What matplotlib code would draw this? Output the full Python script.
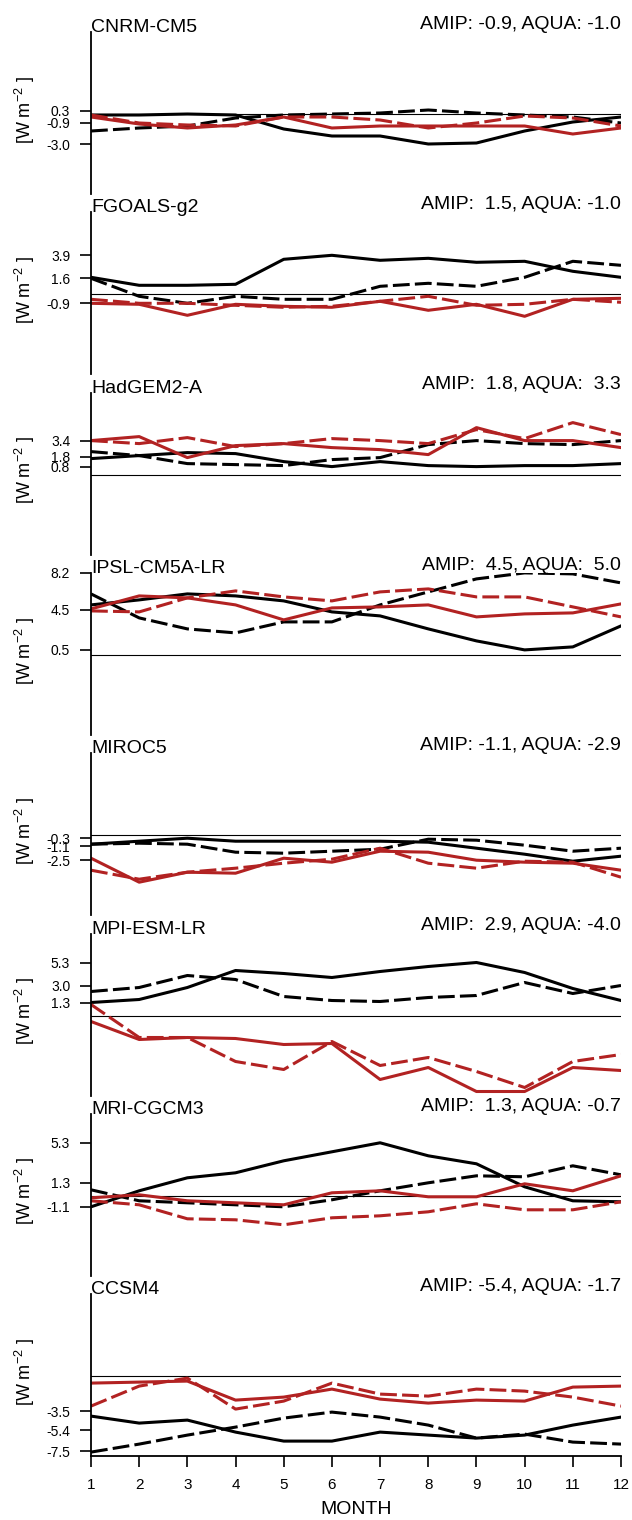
import matplotlib
matplotlib.use("Agg")
import matplotlib.pyplot as plt

plt.rcParams['font.family'] = ['Liberation Sans', 'DejaVu Sans']
plt.rcParams['mathtext.fontset'] = 'custom'
plt.rcParams['mathtext.rm'] = 'Liberation Sans'
plt.rcParams['mathtext.default'] = 'rm'

months = [1, 2, 3, 4, 5, 6, 7, 8, 9, 10, 11, 12]

models = ["CNRM-CM5", "FGOALS-g2", "HadGEM2-A", "IPSL-CM5A-LR",
          "MIROC5", "MPI-ESM-LR", "MRI-CGCM3", "CCSM4"]
amip_mean = [-0.9, 1.5, 1.8, 4.5, -1.1, 2.9, 1.3, -5.4]
aqua_mean = [-1.0, -1.0, 3.3, 5.0, -2.9, -4.0, -0.7, -1.7]

yticks = [[0.3, -0.9, -3.0],
          [3.9, 1.6, -0.9],
          [3.4, 1.8, 0.8],
          [8.2, 4.5, 0.5],
          [-0.3, -1.1, -2.5],
          [5.3, 3.0, 1.3],
          [5.3, 1.3, -1.1],
          [-3.5, -5.4, -7.5]]

# black solid / black dashed / red solid / red dashed per model
cnrm_bs = [-0.1, -0.1, 0.0, -0.1, -1.5, -2.2, -2.2, -3.0, -2.9, -1.7, -0.8, -0.3]
cnrm_bd = [-1.7, -1.4, -1.2, -0.4, -0.1, 0.0, 0.1, 0.4, 0.1, -0.1, -0.3, -0.9]
cnrm_rs = [-0.3, -1.0, -1.4, -1.1, -0.3, -1.4, -1.2, -1.2, -1.2, -1.2, -2.0, -1.4]
cnrm_rd = [-0.1, -0.9, -1.1, -1.2, -0.3, -0.3, -0.6, -1.4, -0.9, -0.2, -0.4, -1.2]

fgoals_bs = [1.7, 0.9, 0.9, 1.0, 3.5, 3.9, 3.4, 3.6, 3.2, 3.3, 2.3, 1.7]
fgoals_bd = [1.6, -0.2, -0.9, -0.2, -0.5, -0.5, 0.8, 1.1, 0.8, 1.7, 3.3, 2.9]
fgoals_rs = [-0.9, -1.0, -2.1, -1.0, -1.2, -1.3, -0.7, -1.6, -1.0, -2.2, -0.5, -0.4]
fgoals_rd = [-0.5, -0.9, -0.9, -1.1, -1.3, -1.2, -0.7, -0.2, -1.1, -1.0, -0.5, -0.8]

hadgem_bs = [1.6, 1.9, 2.2, 2.1, 1.3, 0.8, 1.3, 0.9, 0.8, 0.9, 0.9, 1.1]
hadgem_bd = [2.3, 1.9, 1.1, 1.0, 0.9, 1.5, 1.7, 3.0, 3.4, 3.1, 3.0, 3.4]
hadgem_rs = [3.4, 3.8, 1.7, 2.9, 3.1, 2.7, 2.5, 2.0, 4.7, 3.4, 3.4, 2.7]
hadgem_rd = [3.4, 3.1, 3.7, 2.8, 3.1, 3.6, 3.4, 3.1, 4.5, 3.6, 5.2, 4.0]

ipsl_bs = [5.0, 5.5, 6.1, 5.9, 5.4, 4.3, 3.9, 2.6, 1.4, 0.5, 0.8, 2.9]
ipsl_bd = [6.1, 3.7, 2.6, 2.2, 3.3, 3.3, 5.0, 6.3, 7.6, 8.2, 8.1, 7.2]
ipsl_rs = [4.6, 5.9, 5.7, 5.0, 3.5, 4.7, 4.8, 5.0, 3.8, 4.1, 4.2, 5.1]
ipsl_rd = [4.4, 4.3, 5.7, 6.4, 5.8, 5.4, 6.3, 6.6, 5.8, 5.8, 4.8, 3.8]

miroc_bs = [-0.9, -0.6, -0.3, -0.6, -0.6, -0.6, -0.6, -0.7, -1.3, -1.9, -2.6, -2.1]
miroc_bd = [-0.9, -0.8, -0.9, -1.7, -1.8, -1.6, -1.4, -0.4, -0.5, -1.0, -1.6, -1.3]
miroc_rs = [-2.3, -4.7, -3.7, -3.8, -2.3, -2.7, -1.6, -1.7, -2.5, -2.7, -2.8, -3.5]
miroc_rd = [-3.5, -4.4, -3.7, -3.3, -2.8, -2.4, -1.3, -2.8, -3.3, -2.6, -2.7, -4.2]

mpi_bs = [1.3, 1.6, 2.8, 4.5, 4.2, 3.8, 4.4, 4.9, 5.3, 4.3, 2.7, 1.5]
mpi_bd = [2.4, 2.8, 4.0, 3.6, 1.9, 1.5, 1.4, 1.8, 2.0, 3.3, 2.2, 3.0]
mpi_rs = [-0.6, -2.4, -2.2, -2.3, -2.9, -2.8, -6.4, -5.2, -7.6, -7.6, -5.2, -5.5]
mpi_rd = [1.1, -2.2, -2.2, -4.6, -5.4, -2.6, -5.0, -4.2, -5.6, -7.2, -4.6, -3.9]

mri_bs = [-1.1, 0.5, 1.8, 2.3, 3.5, 4.4, 5.3, 4.0, 3.2, 0.9, -0.5, -0.6]
mri_bd = [0.6, -0.5, -0.7, -0.9, -1.1, -0.4, 0.5, 1.3, 2.0, 1.9, 3.0, 2.1]
mri_rs = [-0.2, 0.1, -0.5, -0.7, -0.9, 0.3, 0.5, -0.1, -0.1, 1.2, 0.5, 2.0]
mri_rd = [-0.5, -0.9, -2.3, -2.4, -2.9, -2.2, -2.0, -1.6, -0.8, -1.4, -1.4, -0.6]

ccsm_bs = [-4.0, -4.7, -4.4, -5.6, -6.5, -6.5, -5.6, -5.9, -6.2, -5.9, -4.9, -4.1]
ccsm_bd = [-7.6, -6.8, -5.9, -5.1, -4.2, -3.6, -4.1, -4.9, -6.2, -5.8, -6.6, -6.8]
ccsm_rs = [-0.7, -0.6, -0.5, -2.4, -2.1, -1.3, -2.3, -2.7, -2.4, -2.5, -1.1, -1.0]
ccsm_rd = [-3.0, -1.0, -0.2, -3.3, -2.5, -0.7, -1.8, -2.0, -1.3, -1.5, -2.1, -3.0]

series = [(cnrm_bs, cnrm_bd, cnrm_rs, cnrm_rd),
          (fgoals_bs, fgoals_bd, fgoals_rs, fgoals_rd),
          (hadgem_bs, hadgem_bd, hadgem_rs, hadgem_rd),
          (ipsl_bs, ipsl_bd, ipsl_rs, ipsl_rd),
          (miroc_bs, miroc_bd, miroc_rs, miroc_rd),
          (mpi_bs, mpi_bd, mpi_rs, mpi_rd),
          (mri_bs, mri_bd, mri_rs, mri_rd),
          (ccsm_bs, ccsm_bd, ccsm_rs, ccsm_rd)]

red = "#b22222"
dash = (0, (5.5, 1.7))

fig = plt.figure(figsize=(6.32, 15.2), dpi=100)
W, H = 632.0, 1520.0

for i in range(len(models)):
    zero_px = 114 + 180.3 * i
    bottom_px = zero_px + 80
    ax = fig.add_axes([91 / W, 1 - bottom_px / H, 530 / W, 162 / H])
    bs, bd, rs, rd = series[i]

    ax.axhline(0, color="black", lw=0.8)
    ax.plot(months, bs, color="black", lw=2.2)
    ax.plot(months, bd, color="black", lw=2.2, linestyle=dash)
    ax.plot(months, rs, color=red, lw=2.2)
    ax.plot(months, rd, color=red, lw=2.2, linestyle=dash)

    ax.set_xlim(1, 12)
    ax.set_ylim(-8.0, 8.2)

    for s in ["top", "right"]:
        ax.spines[s].set_visible(False)
    ax.spines["left"].set_linewidth(1.3)

    ax.set_yticks(yticks[i])
    ax.set_yticklabels(["%.1f" % v for v in yticks[i]])
    ax.tick_params(axis="y", direction="out", length=8, width=1.2,
                   pad=7, labelsize=10)

    if i == len(models) - 1:
        ax.spines["bottom"].set_linewidth(1.3)
        ax.set_xticks(months)
        ax.set_xticklabels([str(m) for m in months])
        ax.tick_params(axis="x", direction="out", length=8, width=1.2,
                       pad=8, labelsize=11)
        ax.set_xlabel("MONTH", fontsize=14, labelpad=6)
    else:
        ax.spines["bottom"].set_visible(False)
        ax.set_xticks([])

    ax.set_ylabel(r"[W m$^{-2}$ ]", fontsize=13)
    ax.yaxis.set_label_coords(-0.102, 0.52)

    ax.text(0.0, 1.0, models[i], transform=ax.transAxes,
            ha="left", va="baseline", fontsize=14)
    ax.text(1.0, 1.02, "AMIP: %4.1f, AQUA: %4.1f" % (amip_mean[i], aqua_mean[i]),
            transform=ax.transAxes, ha="right", va="baseline", fontsize=14)

fig.savefig("out.png", dpi=100)
